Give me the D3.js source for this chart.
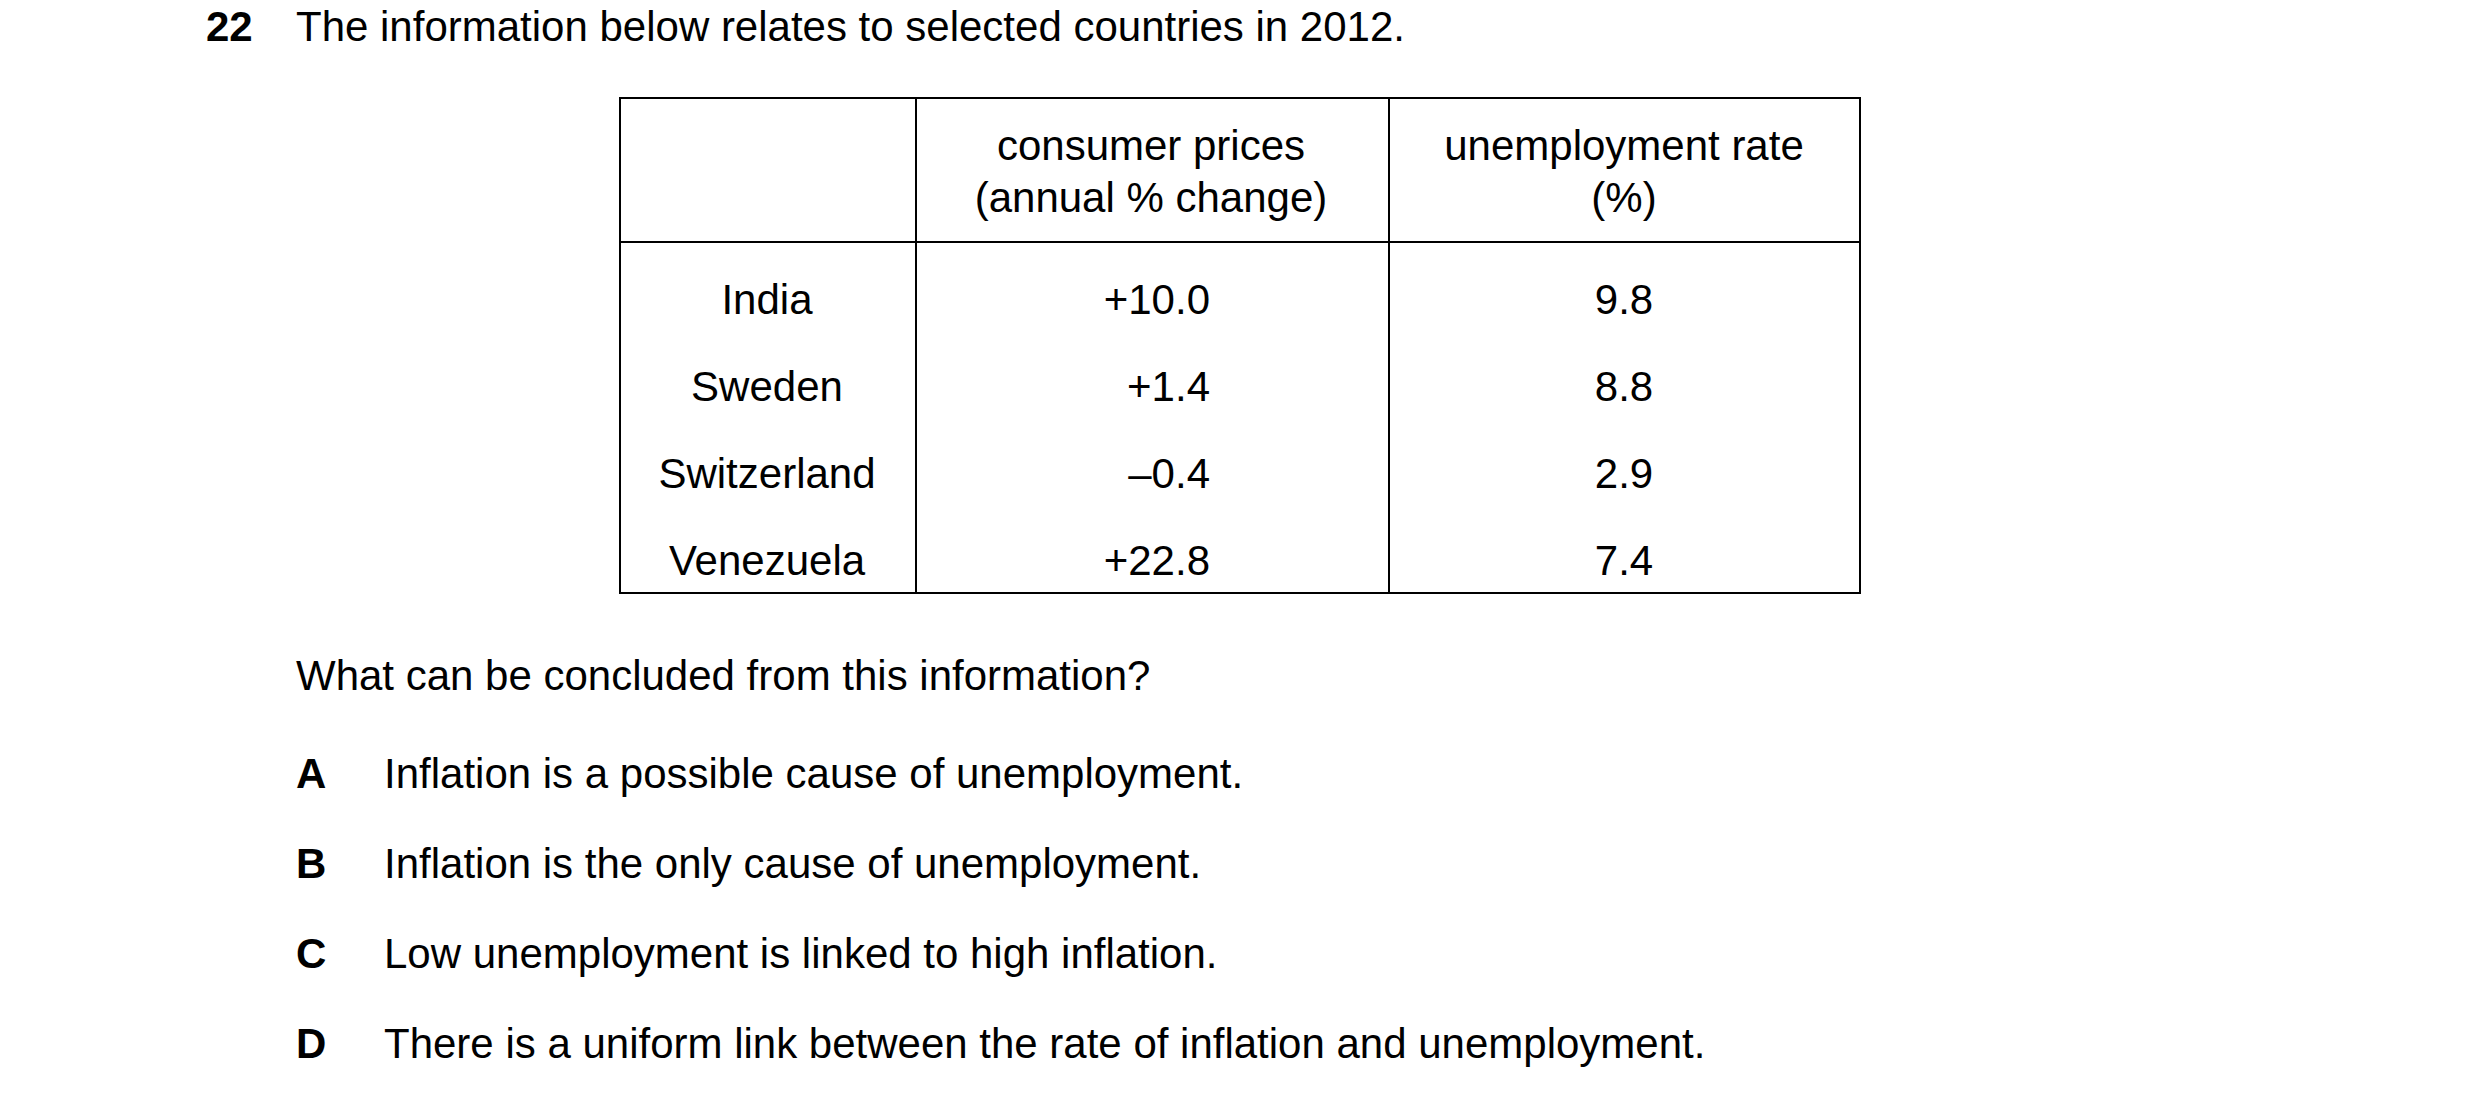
<!DOCTYPE html>
<html><head><meta charset="utf-8">
<script src="https://cdn.jsdelivr.net/npm/d3@7"></script>
<style>body{margin:0;background:#fff}svg text{font-family:"Liberation Sans",Arial,sans-serif;fill:#000}</style>
</head><body><svg id="c" width="2480" height="1109"></svg>
<script>
const countries=["India","Sweden","Switzerland","Venezuela"];
const consumerPrices=["+10.0","+1.4","\u20130.4","+22.8"];
const unemployment=["9.8","8.8","2.9","7.4"];
const headers=[["consumer prices","(annual % change)"],["unemployment rate","(%)"]];
const options=[["A","Inflation is a possible cause of unemployment."],["B","Inflation is the only cause of unemployment."],["C","Low unemployment is linked to high inflation."],["D","There is a uniform link between the rate of inflation and unemployment."]];

(function(){
const svg=d3.select("#c");const fs=42;
svg.append("text").attr("x",206).attr("y",41).attr("font-size",fs).attr("font-weight","bold").text("22");
svg.append("text").attr("x",296).attr("y",41).attr("font-size",fs).text("The information below relates to selected countries in 2012.");

const xs=[620,916,1389,1860],tTop=98,hb=242,bot=593;
const g=svg.append("g");
g.append("rect").attr("x",xs[0]).attr("y",tTop).attr("width",xs[3]-xs[0]).attr("height",bot-tTop).attr("fill","none").attr("stroke","#000").attr("stroke-width",2);
[1,2].forEach(i=>g.append("line").attr("x1",xs[i]).attr("x2",xs[i]).attr("y1",tTop).attr("y2",bot).attr("stroke","#000").attr("stroke-width",2));
g.append("line").attr("x1",xs[0]).attr("x2",xs[3]).attr("y1",hb).attr("y2",hb).attr("stroke","#000").attr("stroke-width",2);
const hc=[1151,1624];
headers.forEach((h,i)=>h.forEach((t,j)=>g.append("text").attr("x",hc[i]).attr("y",160+j*52).attr("text-anchor","middle").attr("font-size",fs).text(t)));
const y=d3.scaleBand().domain(countries).range([255,603]);
countries.forEach((c,i)=>{
 const by=y(c)+y.bandwidth()/2+15;
 g.append("text").attr("x",767).attr("y",by).attr("text-anchor","middle").attr("font-size",fs).text(c);
 g.append("text").attr("x",1210).attr("y",by).attr("text-anchor","end").attr("font-size",fs).text(consumerPrices[i]);
 g.append("text").attr("x",1624).attr("y",by).attr("text-anchor","middle").attr("font-size",fs).text(unemployment[i]);
});
svg.append("text").attr("x",296).attr("y",690).attr("font-size",fs).text("What can be concluded from this information?");
options.forEach((o,i)=>{
 const by=788+i*90;
 svg.append("text").attr("x",296).attr("y",by).attr("font-size",fs).attr("font-weight","bold").text(o[0]);
 svg.append("text").attr("x",384).attr("y",by).attr("font-size",fs).text(o[1]);
});
})();
</script></body></html>
